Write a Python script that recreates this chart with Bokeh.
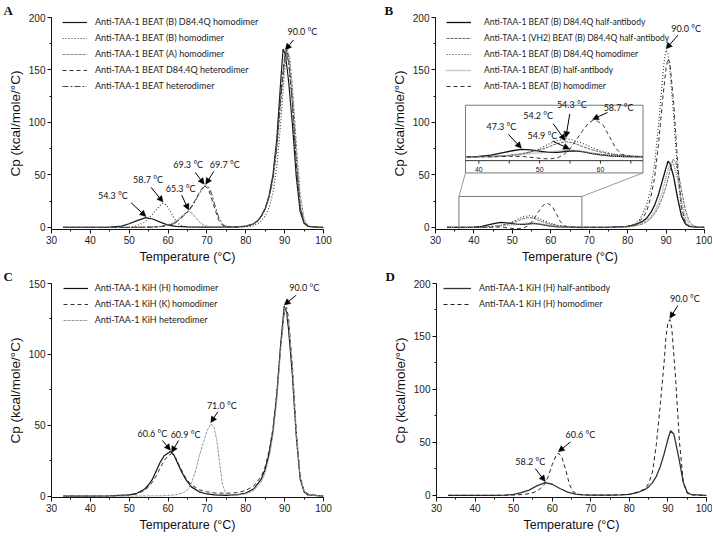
import numpy as np
from bokeh.plotting import figure
from bokeh.layouts import column, row
from bokeh.models import Range1d, SingleIntervalTicker, Legend, LegendItem, Arrow, NormalHead
from bokeh.core.properties import value
from bokeh.embed import file_html
from bokeh.resources import INLINE

# ------------------------------------------------------------------ data
# Panel A
A_bd84_T = [33, 40, 45, 48, 50, 52, 54.3, 56, 58, 60, 62, 65, 70, 75, 78, 80, 82, 83, 84, 85, 86, 87, 88, 89, 89.6, 90.2, 91, 92, 93, 94, 95, 96, 98, 100]
A_bd84_C = [0, 0, 0.2, 1.2, 3.5, 6.5, 9.3, 8, 5, 2.2, 1, 0.5, 0.3, 0.3, 0.6, 1.2, 3.5, 6, 11, 18, 30, 50, 85, 140, 170, 165, 140, 98, 48, 15, 4, 1, 0.3, 0]
A_bhomo_T = [33, 45, 50, 52, 54, 55, 56, 57, 58, 58.7, 59.5, 60.5, 61.5, 62.5, 63.5, 65, 70, 75, 80, 82, 84, 85, 86, 87, 88, 89, 90, 90.5, 91, 92, 93, 94, 95, 96, 98, 100]
A_bhomo_C = [0, 0, 0.3, 1.5, 5, 8.5, 12.5, 17, 21, 23, 21.5, 16, 9, 4, 1.5, 0.3, 0, 0, 0.5, 1.5, 6, 11, 19, 33, 58, 100, 150, 167, 163, 125, 66, 22, 5, 1, 0.3, 0]
A_ahomo_T = [33, 50, 55, 58, 60, 61, 62, 63, 64, 65.3, 66.3, 67.3, 68.3, 69.5, 71, 75, 80, 82, 84, 85, 86, 87, 88, 89, 90, 90.7, 91.3, 92, 93, 94, 95, 96, 97, 100]
A_ahomo_C = [0, 0, 0.3, 0.8, 2.5, 4, 6, 9, 12.5, 15.5, 13, 8.5, 4.5, 1.5, 0.4, 0.2, 1, 3.5, 10, 17, 28, 45, 75, 118, 158, 169, 162, 135, 80, 32, 8, 2, 0.5, 0]
A_het84_T = [33, 50, 56, 58, 60, 61, 62, 63, 64, 65, 66, 67, 68, 69.3, 70.3, 71, 72, 73, 74, 75, 78, 80, 82, 84, 85, 86, 87, 88, 89, 90, 90.5, 91, 92, 93, 94, 95, 96, 98, 100]
A_het84_C = [0, 0, 0.3, 0.8, 2, 3, 5, 8, 11.5, 15, 20, 26, 33, 40, 37, 30, 18, 7, 2, 0.6, 0.3, 1, 3, 10, 18, 30, 49, 82, 128, 163, 169, 162, 118, 60, 18, 4, 1, 0.2, 0]
A_het_T = [33, 50, 56, 58, 60, 61, 62, 63, 64, 65, 66, 67, 68, 69, 69.7, 70.6, 71.3, 72.2, 73.2, 74.2, 75, 78, 80, 82, 84, 85, 86, 87, 88, 89, 90, 90.2, 91, 92, 93, 94, 95, 96, 98, 100]
A_het_C = [0, 0, 0.2, 0.7, 1.8, 2.8, 4.5, 7.5, 11, 14.5, 19, 25, 32, 37.5, 40, 37.5, 31, 19, 8, 2.5, 1, 0.3, 1, 3, 10, 17.5, 29, 47, 78, 124, 162, 168, 158, 118, 62, 20, 5, 1.2, 0.3, 0]

# Panel B
B_half84_T = [33, 36, 38, 40, 42, 44, 45.5, 47, 48.5, 50, 51.5, 53, 54.5, 55.5, 57, 58.5, 60, 62, 64, 67, 70, 75, 80, 82, 84, 85, 86, 87, 88, 89, 90, 90.5, 91, 92, 93, 94, 95, 96, 98, 100]
B_half84_C = [0, 0, 0, 0.2, 1, 2.6, 3.8, 4.7, 4.4, 3.5, 2.8, 2.8, 3.5, 3.8, 3.2, 2.2, 1.3, 0.5, 0.2, 0, 0, 0, 1, 2.5, 6, 9, 14, 21, 31, 44, 57, 63, 61, 48, 28, 11, 3.5, 1, 0.2, 0]
B_vh2_T = [33, 38, 42, 45, 47, 49, 51, 52.5, 54.2, 55.5, 57, 58.5, 60, 62, 64, 67, 70, 75, 80, 82, 84, 85, 86, 87, 88, 89, 90, 91, 91.8, 92.5, 93, 94, 95, 96, 97, 98, 100]
B_vh2_C = [0, 0, 0.3, 1, 2, 3.5, 5.5, 7.8, 9.5, 8.8, 6.5, 4.5, 3, 1.5, 0.7, 0.2, 0, 0, 0.5, 1.5, 3.5, 5.5, 8.5, 13, 19, 28, 39, 54, 65, 62, 55, 36, 17, 6, 2, 0.5, 0]
B_homo84_T = [33, 38, 42, 45, 47, 49, 51, 52.5, 54.3, 55.5, 57, 58.5, 60, 62, 64, 67, 70, 75, 80, 82, 83, 84, 85, 86, 87, 88, 89, 89.5, 90, 90.5, 91, 92, 93, 94, 95, 96, 98, 100]
B_homo84_C = [0, 0, 0, 0.5, 1.5, 3.5, 7, 9.8, 11.3, 10.5, 8.5, 6, 3.8, 1.8, 0.7, 0.2, 0, 0, 1, 3.5, 7, 13, 22, 37, 60, 96, 138, 158, 169, 165, 150, 105, 52, 17, 4, 1, 0.2, 0]
B_half_T = [33, 38, 42, 45, 47, 49, 51, 53, 54.9, 56.5, 58, 60, 62, 64, 67, 70, 75, 80, 82, 84, 85, 86, 87, 88, 89, 90, 91, 92, 93, 94, 95, 96, 97, 100]
B_half_C = [0, 0, 0.2, 0.8, 1.5, 2.2, 2.8, 3.6, 4.2, 3.8, 2.8, 1.5, 0.6, 0.2, 0, 0, 0, 0.5, 1.5, 4, 6.5, 10, 15, 23, 34, 48, 61, 60, 46, 26, 10, 3, 1, 0]
B_homo_T = [33, 38, 42, 45, 47, 49, 50.5, 52, 53, 54, 55, 56, 57, 58, 58.7, 59.5, 60.5, 61.5, 62.5, 63.5, 65, 67, 70, 75, 80, 82, 84, 85, 86, 87, 88, 89, 90, 90.5, 91, 92, 93, 94, 95, 96, 98, 100]
B_homo_C = [0, 0, 0, 0.3, 0.3, -0.5, -1.2, -1.2, -0.5, 1.5, 5, 10.5, 16, 21, 22.7, 22.4, 19.5, 12.5, 5.5, 1.5, 0.3, 0, 0, 0, 1, 3, 9, 16, 28, 47, 78, 118, 152, 161, 157, 118, 62, 20, 5, 1, 0.2, 0]

# Panel C
C_H_T = [33, 40, 45, 50, 52, 54, 55, 56, 57, 58, 59, 60.6, 61.5, 62.5, 63.5, 64.5, 66, 68, 70, 72, 75, 78, 80, 82, 84, 85, 86, 87, 88, 89, 89.9, 90.5, 91, 92, 92.5, 93, 94, 95, 96, 100]
C_H_C = [0, 0, 0.2, 0.8, 2, 5, 8, 12, 18, 24, 28.5, 31.5, 29, 23, 17, 12, 6.5, 3, 1.5, 0.8, 0.5, 1, 2.2, 5, 12, 19, 30, 46, 72, 108, 134, 130, 118, 85, 63, 42, 12, 3, 0.8, 0]
C_K_T = [33, 40, 45, 50, 52, 54, 55, 56, 57, 58, 59, 60, 60.9, 62, 63, 64, 65, 66, 68, 70, 72, 75, 78, 80, 82, 84, 85, 86, 87, 88, 89, 90, 90.5, 91, 92, 93, 94, 95, 96, 98, 100]
C_K_C = [0, 0, 0, 0.5, 1.5, 4, 6.5, 10, 14.5, 20, 25, 28.5, 30, 27, 21, 15.5, 11, 8, 4.5, 3, 2.2, 2, 2.5, 4, 7, 14, 21, 32, 48, 73, 106, 131, 133, 126, 92, 46, 14, 4, 1.5, 0.5, 0]
C_het_T = [33, 50, 58, 62, 64, 65, 66, 67, 68, 69, 70, 71, 71.8, 72.5, 73.2, 74, 75, 77, 80, 82, 84, 85, 86, 87, 88, 89, 90, 91, 92, 93, 94, 95, 96, 98, 100]
C_het_C = [0, 0, 0.2, 0.8, 2.5, 4.5, 9, 17, 28, 37, 46, 51, 49, 40, 25, 8, 1, 0.5, 1.5, 3.8, 10, 16.5, 27, 43, 68, 104, 133, 124, 90, 44, 13, 3.5, 1, 0.3, 0]

# Panel D
D_half_T = [33, 40, 45, 48, 50, 52, 54, 56, 58.2, 60, 62, 64, 66, 68, 70, 75, 78, 80, 82, 84, 85, 86, 87, 88, 89, 90, 90.7, 91.5, 92, 93, 94, 95, 96, 100]
D_half_C = [0, 0, 0, 0.3, 1, 2.5, 5, 9, 12, 10.5, 6.5, 3, 1.2, 0.5, 0.3, 0.2, 0.5, 1, 2.5, 5.5, 8, 12, 18, 27, 39, 53, 61, 58, 50, 32, 12, 3, 0.8, 0]
D_homo_T = [33, 45, 50, 53, 55, 56, 57, 58, 59, 60, 61, 61.6, 62.5, 63.5, 64.5, 65.5, 67, 70, 75, 80, 82, 84, 85, 86, 87, 88, 89, 89.5, 90, 90.5, 91, 92, 93, 94, 95, 96, 100]
D_homo_C = [0, 0, 0.3, 1, 2.5, 4, 6.5, 10.5, 18, 29, 37.5, 40, 36, 24, 10, 3, 0.8, 0.3, 0.2, 1, 3, 6, 11, 22, 48, 85, 125, 150, 163, 166, 158, 110, 50, 12, 2, 0.5, 0]

A_labels = ["Anti-TAA-1 BEAT (B) D84.4Q homodimer", "Anti-TAA-1 BEAT (B) homodimer",
            "Anti-TAA-1 BEAT (A) homodimer", "Anti-TAA-1 BEAT D84.4Q heterodimer",
            "Anti-TAA-1 BEAT heterodimer"]
B_labels = ["Anti-TAA-1 BEAT (B) D84.4Q half-antibody", "Anti-TAA-1 (VH2) BEAT (B) D84.4Q half-antibody",
            "Anti-TAA-1 BEAT (B) D84.4Q homodimer", "Anti-TAA-1 BEAT (B) half-antibody",
            "Anti-TAA-1 BEAT (B) homodimer"]
C_labels = ["Anti-TAA-1 KiH (H) homodimer", "Anti-TAA-1 KiH (K) homodimer", "Anti-TAA-1 KiH heterodimer"]
D_labels = ["Anti-TAA-1 KiH (H) half-antibody", "Anti-TAA-1 KiH (H) homodimer"]
PANEL_LETTERS = ["A", "B", "C", "D"]

X_LABEL = "Temperature (°C)"
Y_LABEL = "Cp (kcal/mole/°C)"

# ------------------------------------------------------------------ layout / style
SANS = "Liberation Sans"
CAL = "Lato"
W = 356
ROW1_H, ROW2_H = 266, 268
BOTTOM = 36
TOP = 15   # room for the panel letter (figure title)


def make_panel(height, left, right, ymin, ymax, letter, letter_dx):
    p = figure(width=W, height=height, x_range=Range1d(30, 100), y_range=Range1d(ymin, ymax),
               output_backend="svg", toolbar_location=None, title=letter,
               min_border_left=left, min_border_right=right, min_border_top=TOP,
               min_border_bottom=BOTTOM)
    p.title.align = "left"
    p.title.offset = -letter_dx
    p.title.standoff = 0
    p.title.text_font = "Liberation Serif"
    p.title.text_font_style = "bold"
    p.title.text_font_size = "13px"
    p.title.text_color = "#111111"
    p.outline_line_color = None
    p.grid.visible = False
    p.xaxis.ticker = SingleIntervalTicker(interval=10, num_minor_ticks=2)
    p.yaxis.ticker = SingleIntervalTicker(interval=50, num_minor_ticks=2)
    for ax in p.axis:
        ax.axis_line_color = "#111111"
        ax.major_tick_line_color = "#111111"
        ax.minor_tick_line_color = "#111111"
        ax.major_tick_in = 0
        ax.major_tick_out = 4
        ax.minor_tick_in = 0
        ax.minor_tick_out = 2
        ax.major_label_text_font = SANS
        ax.major_label_text_font_size = "10px"
        ax.major_label_text_color = "#222222"
        ax.major_label_standoff = 2
        ax.axis_label_text_font = SANS
        ax.axis_label_text_font_style = "normal"
        ax.axis_label_text_color = "#111111"
        ax.axis_label_standoff = 3
    p.xaxis.axis_label = X_LABEL
    p.xaxis.axis_label_text_font_size = "12.5px"
    p.yaxis.axis_label = Y_LABEL
    p.yaxis.axis_label_text_font_size = "13.5px"
    fw = W - left - right
    fh = height - TOP - BOTTOM
    geom = (fw, fh, (30, 100), (ymin, ymax))
    return p, geom


def draw(p, T, C, style, **kw):
    col, dash, lw = style
    return p.line(T, C, line_color=col, line_dash=dash, line_width=lw, **kw)


def add_legend(p, renderers, labels, geom, vx, row1, glyph_w, standoff, fsize="9px"):
    fw, fh = geom[0], geom[1]
    n = len(labels)
    rh, sp = 12, 4
    lh = n * rh + (n - 1) * sp
    top_off = row1 - rh / 2.0
    leg = Legend(items=[LegendItem(label=l, renderers=[r]) for l, r in zip(labels, renderers)],
                 location=(vx, fh - top_off - lh), orientation="vertical",
                 glyph_width=glyph_w, glyph_height=rh, label_height=rh, spacing=sp,
                 label_standoff=standoff, padding=0, margin=0,
                 border_line_color=None, background_fill_alpha=0,
                 label_text_font=CAL, label_text_font_size=fsize, label_text_color="#222222")
    p.add_layout(leg)


def annotate(p, T, C, near, text, tail, txt, geom, rn=None):
    fw, fh, xr, yr = geom
    T = np.asarray(T, float)
    C = np.asarray(C, float)
    idx = np.flatnonzero(np.abs(T - near) <= 1.6)
    i = idx[np.argmax(C[idx])]
    pxT = fw / (xr[1] - xr[0])
    pxC = fh / (yr[1] - yr[0])
    x_tip = T[i]
    y_tip = C[i] + 1.2 / pxC
    x_tail = x_tip + tail[0] / pxT
    y_tail = y_tip - tail[1] / pxC
    kw = {} if rn is None else dict(x_range_name=rn, y_range_name=rn)
    p.add_layout(Arrow(end=NormalHead(size=6, fill_color="black", line_color="black", line_width=0.5),
                       x_start=x_tail, y_start=y_tail, x_end=x_tip, y_end=y_tip,
                       line_color="black", line_width=1, **kw))
    p.text(x=[x_tip], y=[y_tip], text=[text], x_offset=txt[0], y_offset=txt[1],
           text_align="center", text_baseline="middle", text_font=value(CAL),
           text_font_size="9px", text_color="#111111", **kw)


# ------------------------------------------------------------------ panel A
pA, gA = make_panel(ROW1_H, 51, 33, -2, 200, PANEL_LETTERS[0], 48)
sA = [("#1a1a1a", "solid", 1.2), ("#333333", "1 2", 1.1), ("#8a8a8a", "3 1", 1.0),
      ("#333333", "4 3", 1.0), ("#444444", "6 2 2 2", 1.0)]
A_data = [(A_bd84_T, A_bd84_C), (A_bhomo_T, A_bhomo_C), (A_ahomo_T, A_ahomo_C),
          (A_het84_T, A_het84_C), (A_het_T, A_het_C)]
rA = [draw(pA, t, c, s) for (t, c), s in zip(A_data, sA)]
add_legend(pA, rA, A_labels, gA, 11, 7.5, 25, 8)
annotate(pA, A_bd84_T, A_bd84_C, 54.3, "54.3 °C", (-15, -14), (-33, -21), gA)
annotate(pA, A_bhomo_T, A_bhomo_C, 58.7, "58.7 °C", (-12, -15), (-15, -23), gA)
annotate(pA, A_ahomo_T, A_ahomo_C, 65.3, "65.3 °C", (-7, -15), (-8, -21), gA)
annotate(pA, A_het84_T, A_het84_C, 69.3, "69.3 °C", (-9, -12), (-16, -20), gA)
annotate(pA, A_het_T, A_het_C, 69.7, "69.7 °C", (8, -13), (19, -20), gA)
annotate(pA, A_het_T, A_het_C, 90.0, "90.0 °C", (8, -10), (17, -18), gA)

# ------------------------------------------------------------------ panel B
pB, gB = make_panel(ROW1_H, 79, 8, -2, 200, PANEL_LETTERS[1], 51)
sB = [("#111111", "solid", 1.3), ("#555555", "3 1", 0.9), ("#333333", "1 2", 1.1),
      ("#999999", "1 1", 1.5), ("#333333", "4 3", 1.0)]
B_data = [(B_half84_T, B_half84_C), (B_vh2_T, B_vh2_C), (B_homo84_T, B_homo84_C),
          (B_half_T, B_half_C), (B_homo_T, B_homo_C)]

# zoom rectangle, connectors and inset frame (positions in main data units)
ZOOM_RECT = (36.1, 68.1, 29.5)
INSET_T = (37.8, 67.0)
INSET_C = (-2.4, 32.3)
INSET_MAIN_T = (37.8, 84.0)
INSET_MAIN_C = (63.6, 116.4)
INSET_BOX_BOTTOM = 51.9
kx = (INSET_T[1] - INSET_T[0]) / (INSET_MAIN_T[1] - INSET_MAIN_T[0])
ky = (INSET_C[1] - INSET_C[0]) / (INSET_MAIN_C[1] - INSET_MAIN_C[0])
pB.extra_x_ranges = {"inset": Range1d(INSET_T[0] + (30 - INSET_MAIN_T[0]) * kx,
                                      INSET_T[0] + (100 - INSET_MAIN_T[0]) * kx)}
pB.extra_y_ranges = {"inset": Range1d(INSET_C[0] + (-2 - INSET_MAIN_C[0]) * ky,
                                      INSET_C[0] + (200 - INSET_MAIN_C[0]) * ky)}

rB = [draw(pB, t, c, s) for (t, c), s in zip(B_data, sB)]
pB.quad(left=[ZOOM_RECT[0]], right=[ZOOM_RECT[1]], bottom=[-2], top=[ZOOM_RECT[2]],
        fill_alpha=0, line_color="#777777", line_width=1)
pB.segment(x0=[ZOOM_RECT[0], ZOOM_RECT[1]], y0=[ZOOM_RECT[2]] * 2,
           x1=[INSET_MAIN_T[0], INSET_MAIN_T[1]], y1=[INSET_BOX_BOTTOM] * 2,
           line_color="#999999", line_width=1)
pB.quad(left=[INSET_MAIN_T[0]], right=[INSET_MAIN_T[1]], bottom=[INSET_BOX_BOTTOM], top=[INSET_MAIN_C[1]],
        fill_color="white", line_color="#777777", line_width=1)
pB.line([INSET_MAIN_T[0], INSET_MAIN_T[1]], [INSET_MAIN_C[0]] * 2, line_color="#333333", line_width=1)

fwB, fhB = gB[0], gB[1]
px_in_y = fhB / (pB.extra_y_ranges["inset"].end - pB.extra_y_ranges["inset"].start)
INSET_TICKS = [40, 45, 50, 55, 60, 65]
INSET_TICK_LABELS = [40, 50, 60]
pB.segment(x0=INSET_TICKS, y0=[INSET_C[0]] * len(INSET_TICKS), x1=INSET_TICKS,
           y1=[INSET_C[0] - 3 / px_in_y] * len(INSET_TICKS), line_color="#333333",
           x_range_name="inset", y_range_name="inset")
pB.text(x=INSET_TICK_LABELS, y=[INSET_C[0]] * 3, text=[str(v) for v in INSET_TICK_LABELS],
        y_offset=9, text_align="center", text_baseline="middle", text_font=value(SANS),
        text_font_size="7px", text_color="#222222", x_range_name="inset", y_range_name="inset")
for (t, c), s in zip(B_data, sB):
    t = np.asarray(t, float)
    c = np.asarray(c, float)
    m = (t >= INSET_T[0]) & (t <= INSET_T[1])
    draw(pB, t[m], c[m], s, x_range_name="inset", y_range_name="inset")

gBin = (fwB, fhB, (pB.extra_x_ranges["inset"].start, pB.extra_x_ranges["inset"].end),
        (pB.extra_y_ranges["inset"].start, pB.extra_y_ranges["inset"].end))
add_legend(pB, rB, B_labels, gB, 11, 7.5, 25, 13, "8.5px")
annotate(pB, B_homo84_T, B_homo84_C, 90.0, "90.0 °C", (12, -14), (20, -20), gB)
annotate(pB, B_half84_T, B_half84_C, 47.3, "47.3 °C", (-13, -14), (-20, -22), gBin, "inset")
annotate(pB, B_vh2_T, B_vh2_C, 54.2, "54.2 °C", (-12, -17), (-27, -25), gBin, "inset")
annotate(pB, B_homo84_T, B_homo84_C, 54.3, "54.3 °C", (4, -24), (6, -33), gBin, "inset")
annotate(pB, B_half_T, B_half_C, 54.9, "54.9 °C", (-17, -8), (-27, -13), gBin, "inset")
annotate(pB, B_homo_T, B_homo_C, 58.7, "58.7 °C", (15, -7), (26, -12), gBin, "inset")

# ------------------------------------------------------------------ panel C
pC, gC = make_panel(ROW2_H, 51, 33, -1, 150, PANEL_LETTERS[2], 48)
sC = [("#111111", "solid", 1.2), ("#333333", "4 3", 1.0), ("#999999", "3 1", 1.0)]
C_data = [(C_H_T, C_H_C), (C_K_T, C_K_C), (C_het_T, C_het_C)]
rC = [draw(pC, t, c, s) for (t, c), s in zip(C_data, sC)]
add_legend(pC, rC, C_labels, gC, 11.7, 7.5, 25, 7)
annotate(pC, C_H_T, C_H_C, 60.6, "60.6 °C", (-8, -10), (-18, -17), gC)
annotate(pC, C_K_T, C_K_C, 60.9, "60.9 °C", (7, -12), (14, -18), gC)
annotate(pC, C_het_T, C_het_C, 71.0, "71.0 °C", (7, -11), (11, -17), gC)
annotate(pC, C_H_T, C_H_C, 90.0, "90.0 °C", (12, -10), (20, -17), gC)

# ------------------------------------------------------------------ panel D
pD, gD = make_panel(ROW2_H, 80, 6, -2, 200, PANEL_LETTERS[3], 51)
sD = [("#333333", "solid", 1.3), ("#222222", "4 3", 1.0)]
D_data = [(D_half_T, D_half_C), (D_homo_T, D_homo_C)]
rD = [draw(pD, t, c, s) for (t, c), s in zip(D_data, sD)]
add_legend(pD, rD, D_labels, gD, 7, 7.5, 28, 8)
annotate(pD, D_half_T, D_half_C, 58.2, "58.2 °C", (-10, -13), (-15, -20), gD)
annotate(pD, D_homo_T, D_homo_C, 60.6, "60.6 °C", (12, -10), (22, -17), gD)
annotate(pD, D_homo_T, D_homo_C, 90.0, "90.0 °C", (8, -13), (15, -20), gD)

layout = column(row(pA, pB), row(pC, pD))
open("out.html", "w").write(file_html(layout, INLINE))
